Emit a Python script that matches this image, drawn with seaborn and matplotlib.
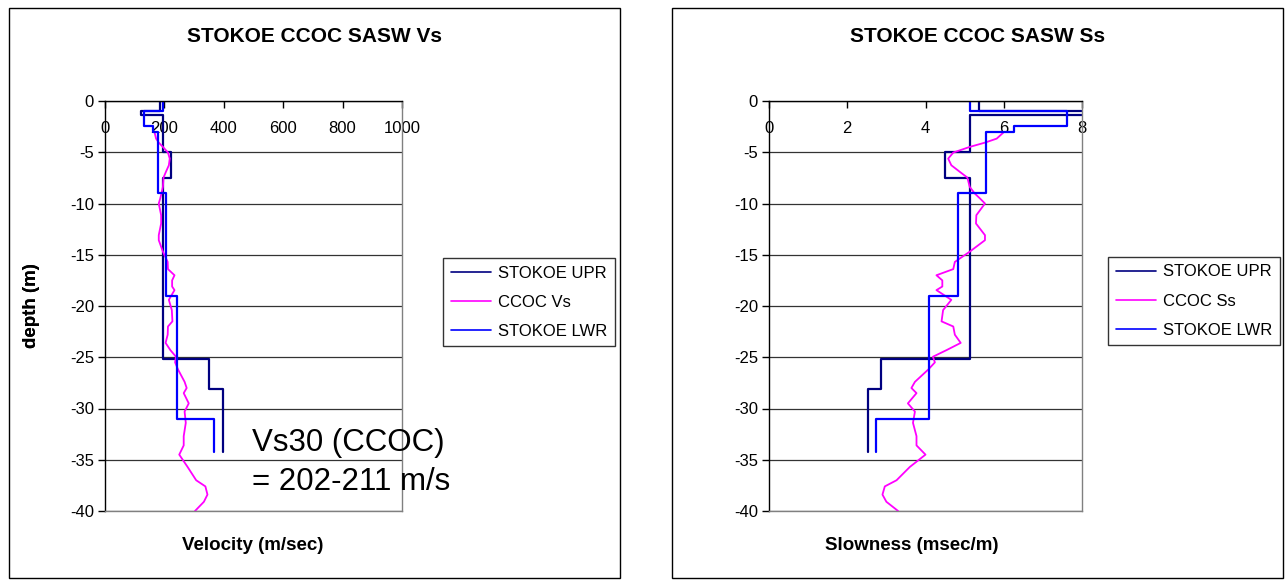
import numpy as np
import pandas as pd
import matplotlib
matplotlib.use("Agg")
import matplotlib.pyplot as plt
import seaborn as sns
from matplotlib.patches import Rectangle

# ---------------- data ----------------
# STOKOE UPR layered profile
upr_top = [0.0, -1.0, -1.33, -5.0, -7.5, -25.2, -28.1]
upr_bot = [-1.0, -1.33, -5.0, -7.5, -25.2, -28.1, -34.2]
upr_vs = [186, 122, 195, 222, 195, 350, 397]
upr_ss = [5.38, 8.2, 5.13, 4.50, 5.13, 2.86, 2.52]

# STOKOE LWR layered profile
lwr_top = [0.0, -1.0, -2.44, -3.0, -9.0, -19.0, -31.05]
lwr_bot = [-1.0, -2.44, -3.0, -9.0, -19.0, -31.05, -34.2]
lwr_vs = [195, 131, 160, 180, 207, 244, 366]
lwr_ss = [5.13, 7.61, 6.27, 5.55, 4.82, 4.10, 2.73]

# CCOC continuous profile
ccoc_depth = [-3.08, -3.67, -4.06, -4.48, -5.03, -5.62, -6.27, -6.92, -7.47, -8.38,
              -9.03, -9.5, -10.0, -11.14, -11.95, -13.09, -13.58, -14.7, -15.7, -16.4,
              -17.0, -17.5, -18.1, -18.45, -19.4, -20.4, -21.5, -22.0, -22.8, -23.6,
              -24.3, -24.95, -25.5, -26.2, -27.4, -28.0, -28.5, -29.5, -30.3, -31.4,
              -32.7, -33.6, -34.5, -35.7, -37.0, -37.6, -38.4, -39.1, -40.0]
ccoc_vs = [167, 172, 181, 195, 212, 218, 215, 205, 197, 195,
           190, 186, 181, 189, 189, 181, 181, 195, 211, 212,
           234, 226, 226, 234, 215, 225, 227, 212, 211, 204,
           220, 239, 236, 246, 268, 275, 265, 282, 268, 272,
           265, 265, 250, 278, 307, 338, 345, 333, 303]
ccoc_ss = [5.99, 5.82, 5.52, 5.13, 4.71, 4.58, 4.66, 4.88, 5.07, 5.13,
           5.26, 5.39, 5.52, 5.30, 5.29, 5.52, 5.52, 5.13, 4.75, 4.71,
           4.28, 4.43, 4.43, 4.28, 4.66, 4.45, 4.41, 4.71, 4.75, 4.90,
           4.54, 4.19, 4.24, 4.07, 3.73, 3.64, 3.77, 3.55, 3.73, 3.68,
           3.77, 3.77, 4.00, 3.60, 3.26, 2.96, 2.90, 3.00, 3.30]

vs_ticks = [0, 200, 400, 600, 800, 1000]
ss_ticks = [0, 2, 4, 6, 8]
depth_ticks = [0, -5, -10, -15, -20, -25, -30, -35, -40]

# ---------------- style ----------------
sns.set_theme(style="white")
plt.rcParams["font.family"] = ["Liberation Sans", "DejaVu Sans"]
plt.rcParams["text.color"] = "black"
plt.rcParams["axes.labelcolor"] = "black"
plt.rcParams["xtick.color"] = "black"
plt.rcParams["ytick.color"] = "black"

W, H = 1285, 580
fig = plt.figure(figsize=(W / 100, H / 100), dpi=100)
fig.patch.set_facecolor("white")

NAVY = "#000080"
BLUE = "#0000FF"
MAG = "#FF00FF"


def px_axes(x0, y0, x1, y1):
    return fig.add_axes([x0 / W, 1 - y1 / H, (x1 - x0) / W, (y1 - y0) / H])


def steps(tops, bots, vals):
    xs, ys = [], []
    for t, b, v in zip(tops, bots, vals):
        xs += [v, v]
        ys += [t, b]
    return pd.DataFrame({"value": xs, "depth": ys})


def frame(x0, y0, x1, y1):
    fig.patches.append(Rectangle((x0 / W, 1 - y1 / H), (x1 - x0) / W, (y1 - y0) / H,
                                 transform=fig.transFigure, fill=False,
                                 edgecolor="black", linewidth=1.0, zorder=0))


def make_panel(box, xlim, xticks, upr, ccoc, lwr, ccoc_label, title, title_xy,
               xlabel, xlabel_xy, legend_xy):
    ax = px_axes(*box)
    sns.lineplot(data=upr, x="value", y="depth", sort=False, estimator=None,
                 color=NAVY, lw=1.6, ax=ax, label="STOKOE UPR")
    sns.lineplot(data=ccoc, x="value", y="depth", sort=False, estimator=None,
                 color=MAG, lw=1.3, ax=ax, label=ccoc_label)
    sns.lineplot(data=lwr, x="value", y="depth", sort=False, estimator=None,
                 color=BLUE, lw=1.6, ax=ax, label="STOKOE LWR")
    ax.set_xlim(*xlim)
    ax.set_ylim(-40, 0)
    ax.set_xticks(xticks)
    ax.set_xticklabels([str(t) for t in xticks])
    ax.set_yticks(depth_ticks)
    ax.set_yticklabels([str(t) for t in depth_ticks])
    ax.grid(False)
    ax.yaxis.grid(True, color="#333333", linewidth=0.9)
    ax.set_axisbelow(True)
    ax.xaxis.set_ticks_position("top")
    ax.tick_params(axis="x", top=True, bottom=False, labeltop=True, labelbottom=False,
                   direction="in", length=5, width=1, pad=-25, labelsize=12,
                   colors="black")
    ax.tick_params(axis="y", left=True, direction="out", length=5, width=1,
                   pad=3, labelsize=12, colors="black")
    for s in ["left", "top"]:
        ax.spines[s].set_color("black")
        ax.spines[s].set_linewidth(1.0)
    for s in ["right", "bottom"]:
        ax.spines[s].set_color("#808080")
        ax.spines[s].set_linewidth(1.0)
    ax.set_xlabel("")
    ax.set_ylabel("depth (m)", fontsize=13.5, fontweight="bold", labelpad=0, color="black")
    ax.yaxis.set_label_coords((40 - box[0]) / (box[2] - box[0]), 0.5)
    fig.text(title_xy[0] / W, 1 - title_xy[1] / H, title, ha="center", va="center",
             fontsize=15, fontweight="bold", color="black")
    fig.text(xlabel_xy[0] / W, 1 - xlabel_xy[1] / H, xlabel, ha="center", va="center",
             fontsize=13.5, fontweight="bold", color="black")
    leg = ax.legend(loc="upper left", bbox_to_anchor=(legend_xy[0] / W, 1 - legend_xy[1] / H),
                    bbox_transform=fig.transFigure, borderaxespad=0, frameon=True,
                    fancybox=False, shadow=False, fontsize=12, handlelength=2.4,
                    handletextpad=0.45, borderpad=0.45, labelspacing=0.85)
    leg.get_frame().set_edgecolor("black")
    leg.get_frame().set_linewidth(1.0)
    for t in leg.get_texts():
        t.set_color("black")
    for line in leg.get_lines():
        line.set_linewidth(1.2)
    return ax


frame(9, 8, 620, 578)
frame(672, 8, 1283, 578)

make_panel((105, 101, 402, 511), (0, 1000), vs_ticks,
           steps(upr_top, upr_bot, upr_vs),
           pd.DataFrame({"value": ccoc_vs, "depth": ccoc_depth}),
           steps(lwr_top, lwr_bot, lwr_vs),
           "CCOC Vs", "STOKOE CCOC SASW Vs", (314.5, 36),
           "Velocity (m/sec)", (253, 546), (443, 258))

make_panel((769, 101, 1082, 511), (0, 8), ss_ticks,
           steps(upr_top, upr_bot, upr_ss),
           pd.DataFrame({"value": ccoc_ss, "depth": ccoc_depth}),
           steps(lwr_top, lwr_bot, lwr_ss),
           "CCOC Ss", "STOKOE CCOC SASW Ss", (977.5, 36),
           "Slowness (msec/m)", (912, 546), (1108, 257))

fig.text(252 / W, 1 - 443 / H, "Vs30 (CCOC)", ha="left", va="center", fontsize=22.5,
         color="black")
fig.text(252 / W, 1 - 482 / H, "= 202-211 m/s", ha="left", va="center", fontsize=22.5,
         color="black")

fig.savefig("out.png", dpi=100, facecolor="white")
